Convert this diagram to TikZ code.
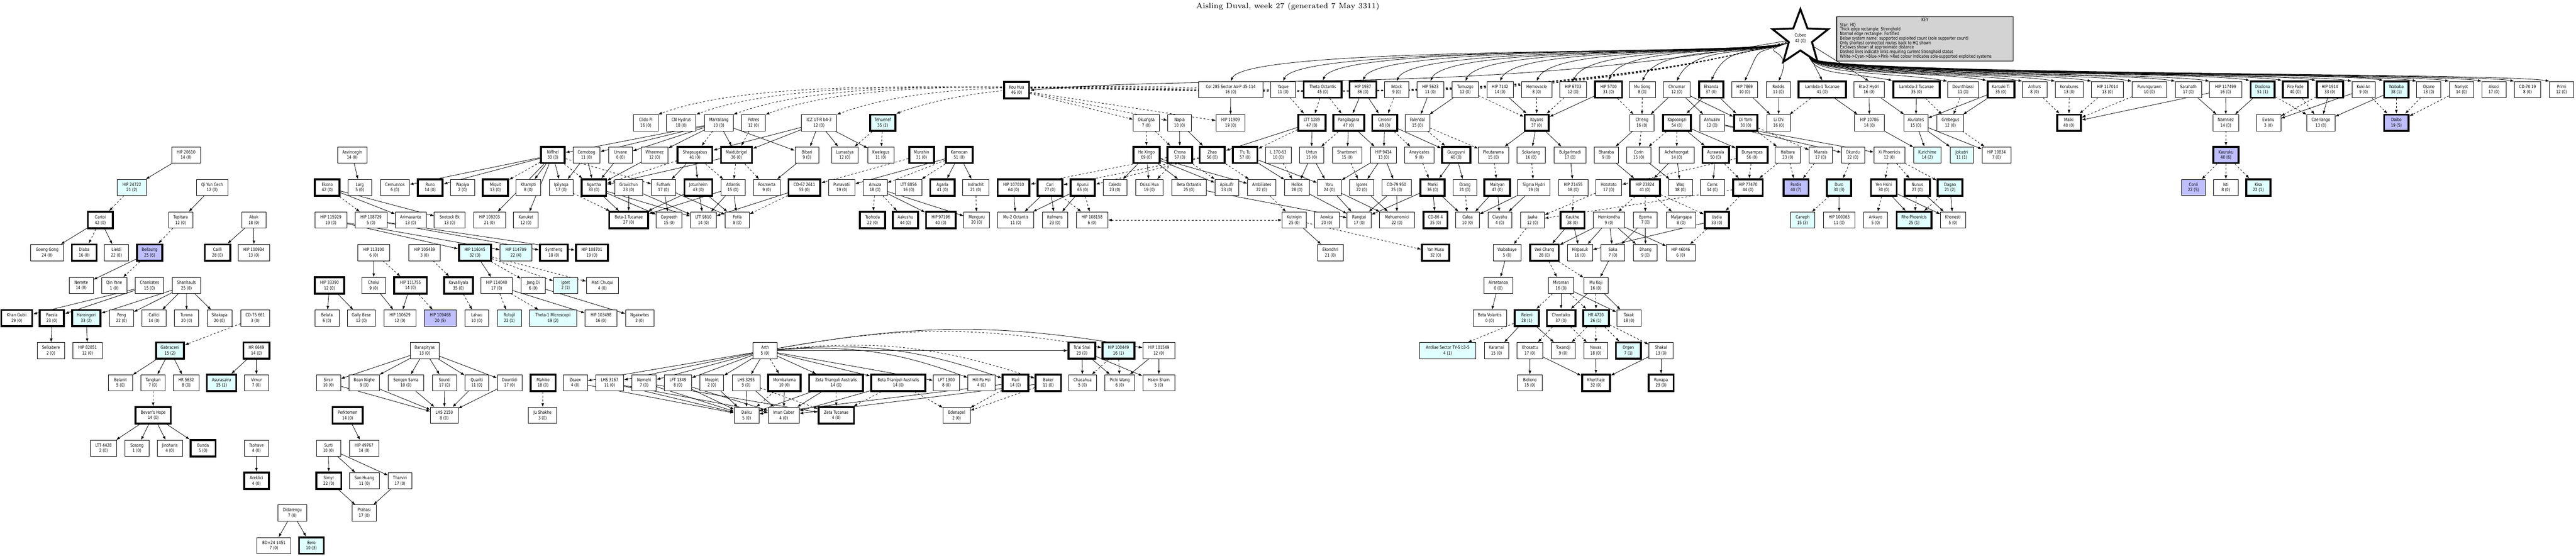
\documentclass[tikz,border=0pt]{standalone}
\usepackage{fontspec}
\usetikzlibrary{arrows.meta,shapes.geometric}
\newfontfamily\nf[FakeStretch=0.8]{DejaVu Sans}
\definecolor{cyf}{RGB}{224,255,255}
\definecolor{blf}{RGB}{191,191,255}
\definecolor{keyg}{RGB}{211,211,211}
\pgfdeclarelayer{bgfill}
\pgfdeclarelayer{bg}
\pgfsetlayers{bgfill,bg,main}
\tikzset{
 nb/.style={draw,line width=0.35pt,fill=white,minimum height=0.48cm,inner sep=0pt,align=center,font=\nf\fontsize{3.8}{4.6}\selectfont},
 tb/.style={nb,line width=1.6pt},
 cy/.style={fill=cyf}, bl/.style={fill=blf},
 e/.style={-{Latex[length=1.1mm,width=0.8mm]},line width=0.35pt},
 d/.style={e,dash pattern=on 1.6pt off 1.6pt},
}
\newcommand\bx[6]{\node[#5,minimum width={(#3-#2)*0.01cm}] (#1) at ({(#2+#3)/200},{-#4/100}) {#6};}
\begin{document}
\begin{tikzpicture}
\begin{pgfonlayer}{bgfill}
\path[fill=white] (0,0) rectangle (75.99,-16.39);
\end{pgfonlayer}
\useasboundingbox (0,0) rectangle (75.99,-16.39);
\node (title) at (37.99,-0.2) {\fontsize{6.5}{7}\selectfont Aisling Duval, week 27 (generated 7 May 3311)};
\node[star,star points=5,star point ratio=2.4,draw,line width=1.6pt,fill=white,minimum size=1.72cm,inner sep=0pt,align=center,font=\nf\fontsize{3.8}{4.6}\selectfont] (hq) at (53.11,-1.13) {Cubeo\\42 (0)};
\node[draw,line width=0.5pt,fill=keyg,minimum width=5.21cm,minimum height=1.31cm] (key) at (56.785,-1.145) {};
\node[anchor=north,inner sep=0pt,font=\nf\fontsize{3.8}{3.8}\selectfont] (keyt) at ([yshift=-0.05cm]key.north) {KEY};
\node[anchor=north west,inner sep=0pt,align=left,font=\nf\fontsize{3.8}{3.78}\selectfont] (keyb) at ([xshift=0.1cm,yshift=-0.19cm]key.north west) {Star: HQ\\Thick edge rectangle: Stronghold\\Normal edge rectangle: Fortified\\Below system name: supported exploited count (sole supporter count)\\Only shortest connected routes back to HQ shown\\Exclaves shown at approximate distance\\Dashed lines indicate links requiring current Stronghold status\\White->Cyan->Blue->Pink->Red colour indicates sole-supported exploited systems};
% row 264
\bx{kouhua}{2962}{3036}{266}{tb}{Kou Hua\\46 (0)}
\bx{col285}{3536}{3725}{264}{nb}{Col 285 Sector AV-P d5-114\\16 (0)}
\bx{yaque}{3749}{3821}{264}{nb}{Yaque\\11 (0)}
\bx{thetaoct}{3846}{3958}{264}{tb}{Theta Octantis\\45 (0)}
\bx{hip1937}{3981}{4060}{264}{tb}{HIP 1937\\36 (0)}
\bx{iktock}{4085}{4155}{264}{nb}{Iktock\\9 (0)}
\bx{hip5623}{4180}{4259}{264}{nb}{HIP 5623\\11 (0)}
\bx{tumuzgo}{4284}{4361}{264}{nb}{Tumuzgo\\12 (0)}
\bx{hip7142}{4386}{4464}{264}{nb}{HIP 7142\\14 (0)}
\bx{hernovacle}{4488}{4578}{264}{nb}{Hernovacle\\8 (0)}
\bx{hip6703}{4601}{4680}{264}{nb}{HIP 6703\\12 (0)}
\bx{hip5700}{4705}{4785}{264}{tb}{HIP 5700\\31 (0)}
\bx{mugong}{4806}{4883}{264}{nb}{Mu Gong\\8 (0)}
\bx{chnumar}{4907}{4986}{264}{nb}{Chnumar\\12 (0)}
\bx{ehlanda}{5012}{5084}{264}{tb}{Ehlanda\\37 (0)}
\bx{hip7869}{5108}{5185}{264}{nb}{HIP 7869\\10 (0)}
\bx{reddis}{5211}{5282}{264}{nb}{Reddis\\11 (0)}
\bx{lam1}{5306}{5445}{264}{tb}{Lambda-1 Tucanae\\41 (0)}
\bx{eta2}{5469}{5558}{264}{nb}{Eta-2 Hydri\\16 (0)}
\bx{lam2}{5585}{5722}{264}{tb}{Lambda-2 Tucanae\\35 (0)}
\bx{dounth}{5745}{5837}{264}{nb}{Dounthiassi\\11 (0)}
\bx{karsuki}{5863}{5942}{264}{tb}{Karsuki Ti\\35 (0)}
\bx{anhurs}{5966}{6038}{264}{nb}{Anhurs\\8 (0)}
\bx{korub}{6063}{6145}{264}{nb}{Korubures\\13 (0)}
\bx{hip117014}{6170}{6264}{264}{nb}{HIP 117014\\13 (0)}
\bx{purung}{6289}{6392}{264}{nb}{Purungurawn\\10 (0)}
\bx{sarahath}{6417}{6494}{264}{nb}{Sarahath\\17 (0)}
\bx{hip117499}{6518}{6613}{264}{nb}{HIP 117499\\16 (0)}
\bx{doolona}{6639}{6710}{264}{tb,cy}{Doolona\\51 (1)}
\bx{firefade}{6734}{6808}{264}{tb}{Fire Fade\\40 (0)}
\bx{hip1914}{6834}{6912}{264}{tb}{HIP 1914\\33 (0)}
\bx{kukian}{6938}{7007}{264}{nb}{Kuki An\\9 (0)}
\bx{wababa}{7033}{7105}{264}{tb,cy}{Wababa\\38 (1)}
\bx{osane}{7129}{7200}{264}{nb}{Osane\\13 (0)}
\bx{nariyot}{7225}{7297}{264}{nb}{Nariyot\\14 (0)}
\bx{aisoci}{7321}{7393}{264}{nb}{Aisoci\\17 (0)}
\bx{cd7019}{7417}{7495}{264}{nb}{CD-70 19\\8 (0)}
\bx{primi}{7521}{7592}{264}{nb}{Primi\\12 (0)}
% row 362
\bx{clido}{1869}{1941}{362}{nb}{Clido Pi\\16 (0)}
\bx{cnhydrus}{1966}{2053}{362}{nb}{CN Hydrus\\18 (0)}
\bx{marrallang}{2078}{2163}{362}{nb}{Marrallang\\10 (0)}
\bx{potres}{2188}{2258}{362}{nb}{Potres\\12 (0)}
\bx{iczut}{2364}{2468}{362}{nb}{ICZ UT-R b4-3\\12 (0)}
\bx{tehuenef}{2567}{2641}{362}{tb,cy}{Tehuenef\\35 (2)}
\bx{okuagsa}{3343}{3420}{362}{nb}{Okua'gsa\\7 (0)}
\bx{napia}{3444}{3515}{362}{nb}{Napia\\10 (0)}
\bx{hip11909}{3587}{3673}{362}{nb}{HIP 11909\\19 (0)}
\bx{ltt1289}{3830}{3910}{362}{tb}{LTT 1289\\47 (0)}
\bx{pangil}{3933}{4024}{362}{tb}{Pangilagara\\47 (0)}
\bx{ceronir}{4048}{4122}{362}{tb}{Ceronir\\48 (0)}
\bx{falendal}{4145}{4218}{362}{nb}{Falendal\\15 (0)}
\bx{koyans}{4498}{4568}{362}{tb}{Koyans\\37 (0)}
\bx{cheng}{4808}{4879}{362}{nb}{Ch'eng\\16 (0)}
\bx{kapoongzi}{4906}{4988}{362}{tb}{Kapoongzi\\54 (0)}
\bx{anhualm}{5014}{5087}{362}{nb}{Anhualm\\12 (0)}
\bx{diyomi}{5116}{5184}{362}{tb}{Di Yomi\\30 (0)}
\bx{lichi}{5212}{5282}{362}{nb}{Li Chi\\16 (0)}
\bx{hip10786}{5471}{5558}{362}{nb}{HIP 10786\\14 (0)}
\bx{aluriates}{5616}{5687}{362}{nb}{Aluriates\\15 (0)}
\bx{grebegus}{5714}{5793}{362}{nb}{Grebegus\\12 (0)}
\bx{maiki}{6068}{6138}{362}{tb}{Maiki\\40 (0)}
\bx{namniez}{6528}{6604}{362}{nb}{Namniez\\14 (0)}
\bx{ewanu}{6655}{6728}{362}{nb}{Ewanu\\3 (0)}
\bx{caeriango}{6805}{6888}{362}{nb}{Caeriango\\13 (0)}
\bx{daibo}{7033}{7105}{362}{tb,bl}{Daibo\\19 (5)}
% row 457
\bx{hip20610}{506}{592}{457}{nb}{HIP 20610\\14 (0)}
\bx{asvincegin}{996}{1082}{457}{nb}{Asvincegin\\14 (0)}
\bx{niflhel}{1596}{1666}{457}{tb}{Niflhel\\30 (0)}
\bx{cernobog}{1690}{1770}{457}{nb}{Cernobog\\11 (0)}
\bx{urvane}{1795}{1866}{457}{nb}{Urvane\\6 (0)}
\bx{wheemez}{1891}{1971}{457}{nb}{Wheemez\\12 (0)}
\bx{shapsug}{1999}{2101}{457}{tb}{Shapsugabus\\41 (0)}
\bx{maidub}{2127}{2218}{457}{tb}{Maidubrigel\\36 (0)}
\bx{bibari}{2345}{2416}{457}{nb}{Bibari\\9 (0)}
\bx{lumastya}{2453}{2531}{457}{nb}{Lumastya\\12 (0)}
\bx{kwelegus}{2560}{2637}{457}{nb}{Kwelegus\\11 (0)}
\bx{munshin}{2682}{2755}{457}{tb}{Munshin\\31 (0)}
\bx{kamocan}{2790}{2869}{457}{tb}{Kamocan\\51 (0)}
\bx{hexingo}{3343}{3421}{457}{tb}{He Xingo\\69 (0)}
\bx{chona}{3444}{3517}{457}{tb}{Chona\\57 (0)}
\bx{zhao}{3539}{3613}{457}{tb}{Zhao\\56 (0)}
\bx{tutu}{3637}{3709}{457}{tb}{T'u Tu\\57 (0)}
\bx{l17063}{3733}{3809}{457}{nb}{L 170-63\\10 (0)}
\bx{untun}{3833}{3905}{457}{nb}{Untun\\15 (0)}
\bx{shanteneri}{3931}{4017}{457}{nb}{Shanteneri\\15 (0)}
\bx{hip9414}{4043}{4120}{457}{nb}{HIP 9414\\13 (0)}
\bx{anayicates}{4144}{4230}{457}{nb}{Anayicates\\9 (0)}
\bx{guuguyni}{4254}{4337}{457}{tb}{Guuguyni\\40 (0)}
\bx{pleutarama}{4361}{4450}{457}{nb}{Pleutarama\\15 (0)}
\bx{sokariang}{4475}{4558}{457}{nb}{Sokariang\\16 (0)}
\bx{bulgar}{4584}{4679}{457}{nb}{Bulgarlmadi\\17 (0)}
\bx{bharaba}{4703}{4774}{457}{nb}{Bharaba\\9 (0)}
\bx{corin}{4798}{4870}{457}{nb}{Corin\\15 (0)}
\bx{acheh}{4895}{4997}{457}{nb}{Achehoongat\\14 (0)}
\bx{aurawala}{5022}{5100}{457}{tb}{Aurawala\\50 (0)}
\bx{duryampas}{5123}{5214}{457}{tb}{Duryampas\\56 (0)}
\bx{halbara}{5237}{5311}{457}{nb}{Halbara\\23 (0)}
\bx{miansis}{5337}{5405}{457}{nb}{Miansis\\17 (0)}
\bx{okundu}{5432}{5500}{457}{nb}{Okundu\\22 (0)}
\bx{xiphoen}{5528}{5619}{457}{nb}{Xi Phoenicis\\12 (0)}
\bx{kurichime}{5645}{5726}{457}{nb,cy}{Kurichime\\14 (2)}
\bx{jokudri}{5753}{5821}{457}{nb,cy}{Jokudri\\11 (1)}
\bx{hip10834}{5847}{5932}{457}{nb}{HIP 10834\\7 (0)}
\bx{kauruku}{6529}{6604}{457}{tb,bl}{Kauruku\\40 (6)}
% row 553
\bx{hip24722}{346}{432}{553}{nb,cy}{HIP 24722\\21 (2)}
\bx{qiyun}{579}{673}{553}{nb}{Qi Yun Cech\\12 (0)}
\bx{ekono}{929}{1002}{553}{tb}{Ekono\\42 (0)}
\bx{larg}{1026}{1097}{553}{nb}{Larg\\5 (0)}
\bx{cernunnos}{1122}{1208}{553}{nb}{Cernunnos\\6 (0)}
\bx{runo}{1232}{1306}{553}{tb}{Runo\\14 (0)}
\bx{wapiya}{1329}{1400}{553}{nb}{Wapiya\\2 (0)}
\bx{miquit}{1424}{1499}{553}{tb}{Miquit\\13 (0)}
\bx{khampti}{1522}{1595}{553}{nb}{Khampti\\8 (0)}
\bx{ipilyaqa}{1620}{1691}{553}{nb}{Ipilyaqa\\17 (0)}
\bx{agartha}{1716}{1788}{553}{tb}{Agartha\\33 (0)}
\bx{grovichun}{1813}{1896}{553}{nb}{Grovichun\\23 (0)}
\bx{futhark}{1922}{1993}{553}{nb}{Futhark\\17 (0)}
\bx{jotunheim}{2019}{2101}{553}{tb}{Jotunheim\\43 (0)}
\bx{atlantis}{2127}{2198}{553}{nb}{Atlantis\\15 (0)}
\bx{rosmerta}{2223}{2301}{553}{nb}{Rosmerta\\9 (0)}
\bx{cdsixseven}{2326}{2420}{553}{tb}{CD-67 2611\\55 (0)}
\bx{punavatii}{2445}{2522}{553}{nb}{Punavatii\\19 (0)}
\bx{amuza}{2546}{2617}{553}{nb}{Amuza\\18 (0)}
\bx{ltt8856}{2642}{2719}{553}{nb}{LTT 8856\\16 (0)}
\bx{agarla}{2744}{2816}{553}{tb}{Agarla\\41 (0)}
\bx{indrachit}{2840}{2917}{553}{nb}{Indrachit\\21 (0)}
\bx{hip107010}{2943}{3037}{553}{tb}{HIP 107010\\64 (0)}
\bx{cari}{3061}{3134}{553}{tb}{Cari\\77 (0)}
\bx{apurui}{3158}{3230}{553}{tb}{Apurui\\65 (0)}
\bx{caledo}{3254}{3324}{553}{nb}{Caledo\\23 (0)}
\bx{osissi}{3350}{3431}{553}{nb}{Osissi Hua\\19 (0)}
\bx{betaoct}{3457}{3558}{553}{nb}{Beta Octantis\\25 (0)}
\bx{apisulfr}{3584}{3654}{553}{nb}{Apisulfr\\23 (0)}
\bx{ambil}{3680}{3764}{553}{nb}{Ambiliates\\22 (0)}
\bx{hollos}{3790}{3862}{553}{nb}{Hollos\\28 (0)}
\bx{yoru}{3886}{3957}{553}{nb}{Yoru\\24 (0)}
\bx{igores}{3981}{4053}{553}{nb}{Igores\\22 (0)}
\bx{cdsevennine}{4077}{4163}{553}{nb}{CD-79 950\\25 (0)}
\bx{marki}{4190}{4262}{553}{tb}{Marki\\36 (0)}
\bx{orang}{4286}{4357}{553}{nb}{Orang\\21 (0)}
\bx{maityan}{4379}{4455}{553}{tb}{Maityan\\47 (0)}
\bx{sigmahyd}{4477}{4572}{553}{nb}{Sigma Hydri\\19 (0)}
\bx{hip21455}{4598}{4684}{553}{nb}{HIP 21455\\18 (0)}
\bx{hotototo}{4707}{4784}{553}{nb}{Hotototo\\17 (0)}
\bx{hip23824}{4808}{4897}{553}{tb}{HIP 23824\\41 (0)}
\bx{waq}{4921}{4993}{553}{nb}{Waq\\18 (0)}
\bx{carns}{5016}{5087}{553}{nb}{Carns\\14 (0)}
\bx{hip77470}{5113}{5200}{553}{tb}{HIP 77470\\44 (0)}
\bx{pardis}{5261}{5335}{553}{tb,bl}{Pardis\\40 (7)}
\bx{duro}{5389}{5461}{553}{tb,cy}{Duro\\30 (3)}
\bx{yenhsini}{5519}{5595}{553}{tb}{Yen Hsini\\30 (0)}
\bx{nunus}{5619}{5693}{553}{tb}{Nunus\\27 (0)}
\bx{dagao}{5716}{5789}{553}{tb,cy}{Dagao\\21 (2)}
\bx{conii}{6435}{6506}{553}{nb,bl}{Conii\\22 (5)}
\bx{isti}{6530}{6602}{553}{nb}{Isti\\8 (0)}
\bx{kisa}{6626}{6698}{553}{tb,cy}{Kisa\\22 (1)}
% row 649
\bx{cartoi}{259}{333}{649}{tb}{Cartoi\\42 (0)}
\bx{tepitara}{497}{569}{649}{nb}{Tepitara\\12 (0)}
\bx{abuk}{713}{785}{649}{nb}{Abuk\\18 (0)}
\bx{hip115929}{929}{1023}{649}{nb}{HIP 115929\\19 (0)}
\bx{hip108729}{1047}{1142}{649}{nb}{HIP 108729\\5 (0)}
\bx{arimavante}{1166}{1257}{649}{nb}{Arimavante\\13 (0)}
\bx{snotock}{1281}{1372}{649}{nb}{Snotock Ek\\13 (0)}
\bx{hip109203}{1397}{1491}{649}{nb}{HIP 109203\\21 (0)}
\bx{kanuket}{1515}{1588}{649}{nb}{Kanuket\\12 (0)}
\bx{betaonetuc}{1797}{1912}{649}{tb}{Beta-1 Tucanae\\27 (0)}
\bx{cegreeth}{1936}{2012}{649}{nb}{Cegreeth\\15 (0)}
\bx{ltt9810}{2037}{2113}{649}{nb}{LTT 9810\\14 (0)}
\bx{fotla}{2139}{2211}{649}{nb}{Fotla\\8 (0)}
\bx{tsohoda}{2537}{2611}{649}{tb}{Tsohoda\\22 (0)}
\bx{aakushu}{2634}{2708}{649}{tb}{Aakushu\\44 (0)}
\bx{hip97196}{2732}{2819}{649}{tb}{HIP 97196\\40 (0)}
\bx{menguru}{2843}{2919}{649}{nb}{Menguru\\20 (0)}
\bx{mutwooct}{2943}{3050}{649}{nb}{Mu-2 Octantis\\11 (0)}
\bx{itelmens}{3075}{3149}{649}{nb}{Itelmens\\23 (0)}
\bx{hip108158}{3175}{3268}{649}{nb}{HIP 108158\\6 (0)}
\bx{kutnigin}{3782}{3854}{649}{nb}{Kutnigin\\25 (0)}
\bx{aowica}{3878}{3950}{649}{nb}{Aowica\\20 (0)}
\bx{rangtei}{3974}{4045}{649}{nb}{Rangtei\\17 (0)}
\bx{mehuen}{4069}{4173}{649}{nb}{Mehuenomici\\22 (0)}
\bx{cdeightsix}{4199}{4270}{649}{tb}{CD-86 4\\35 (0)}
\bx{calea}{4294}{4364}{649}{nb}{Calea\\10 (0)}
\bx{ciayahu}{4389}{4460}{649}{nb}{Ciayahu\\4 (0)}
\bx{jaaka}{4486}{4556}{649}{nb}{Jaaka\\12 (0)}
\bx{kaukhe}{4603}{4674}{649}{tb}{Kaukhe\\38 (0)}
\bx{hernk}{4700}{4793}{649}{nb}{Hernkondha\\9 (0)}
\bx{epoma}{4819}{4889}{649}{nb}{Epoma\\7 (0)}
\bx{maljan}{4916}{5003}{649}{nb}{Maljangapa\\8 (0)}
\bx{usdia}{5029}{5100}{649}{tb}{Usdia\\33 (0)}
\bx{caneph}{5282}{5353}{649}{nb,cy}{Caneph\\15 (3)}
\bx{hip100063}{5379}{5472}{649}{nb}{HIP 100063\\11 (0)}
\bx{ankayo}{5498}{5568}{649}{nb}{Ankayo\\5 (0)}
\bx{rhophoen}{5595}{5698}{649}{tb,cy}{Rho Phoenicis\\25 (1)}
\bx{khonesti}{5724}{5798}{649}{nb}{Khonesti\\5 (0)}
% row 745
\bx{goeng}{90}{188}{745}{nb}{Goeng Gong\\24 (0)}
\bx{diaba}{212}{285}{745}{tb}{Diaba\\16 (0)}
\bx{lieldi}{308}{379}{745}{nb}{Lieldi\\22 (0)}
\bx{bellaung}{404}{479}{745}{tb,bl}{Bellaung\\25 (6)}
\bx{cailli}{604}{679}{745}{tb}{Cailli\\28 (0)}
\bx{hip100934}{702}{796}{745}{nb}{HIP 100934\\13 (0)}
\bx{hip113100}{1055}{1150}{745}{nb}{HIP 113100\\6 (0)}
\bx{hip105439}{1206}{1299}{745}{nb}{HIP 105439\\3 (0)}
\bx{hip116045}{1354}{1448}{745}{tb,cy}{HIP 116045\\32 (3)}
\bx{hip114709}{1475}{1569}{745}{nb,cy}{HIP 114709\\22 (4)}
\bx{syntheng}{1593}{1675}{745}{tb}{Syntheng\\18 (0)}
\bx{hip108701}{1699}{1793}{745}{tb}{HIP 108701\\19 (0)}
\bx{ekondhri}{3887}{3962}{745}{nb}{Ekondhri\\21 (0)}
\bx{yanmusu}{4195}{4275}{745}{tb}{Yan Musu\\32 (0)}
\bx{wababaye}{4405}{4487}{745}{nb}{Wababaye\\5 (0)}
\bx{weichang}{4514}{4598}{745}{tb}{Wei Chang\\28 (0)}
\bx{hirpasuk}{4624}{4698}{745}{nb}{Hirpasuk\\16 (0)}
\bx{saka}{4723}{4793}{745}{nb}{Saka\\7 (0)}
\bx{dhang}{4819}{4889}{745}{nb}{Dhang\\9 (0)}
\bx{hip46046}{4916}{5000}{745}{nb}{HIP 46046\\6 (0)}
% row 842
\bx{nerrete}{204}{275}{842}{nb}{Nerrete\\14 (0)}
\bx{qinyane}{300}{374}{842}{nb}{Qin Yane\\1 (0)}
\bx{chankates}{399}{483}{842}{nb}{Chankates\\15 (0)}
\bx{shanhauls}{508}{592}{842}{nb}{Shanhauls\\25 (0)}
\bx{hip33390}{929}{1015}{842}{tb}{HIP 33390\\12 (0)}
\bx{cholul}{1067}{1138}{842}{nb}{Cholul\\9 (0)}
\bx{hip111755}{1163}{1259}{842}{tb}{HIP 111755\\14 (0)}
\bx{kavall}{1310}{1395}{842}{tb}{Kavalliyala\\35 (0)}
\bx{hip114040}{1418}{1512}{842}{nb}{HIP 114040\\17 (0)}
\bx{jangdi}{1537}{1609}{842}{nb}{Jang Di\\6 (0)}
\bx{iptet}{1633}{1704}{842}{nb,cy}{Iptet\\2 (1)}
\bx{matichuqui}{1730}{1824}{842}{nb}{Mati Chuqui\\4 (0)}
\bx{airsetanoa}{4377}{4463}{842}{nb}{Airsetanoa\\0 (0)}
\bx{miroman}{4568}{4642}{842}{nb}{Miroman\\16 (0)}
\bx{mukoji}{4672}{4744}{842}{nb}{Mu Koji\\16 (0)}
% row 938
\bx{khangubii}{4}{95}{938}{tb}{Khan Gubii\\29 (0)}
\bx{paesia}{117}{189}{938}{tb}{Paesia\\23 (0)}
\bx{haroingori}{213}{296}{938}{tb,cy}{Haroingori\\33 (2)}
\bx{peng}{323}{394}{938}{nb}{Peng\\22 (0)}
\bx{callici}{419}{490}{938}{nb}{Callici\\14 (0)}
\bx{turona}{515}{586}{938}{nb}{Turona\\20 (0)}
\bx{sitakapa}{611}{684}{938}{nb}{Sitakapa\\20 (0)}
\bx{cdsevenfive}{710}{796}{938}{nb}{CD-75 661\\3 (0)}
\bx{belata}{929}{1000}{938}{nb}{Belata\\6 (0)}
\bx{gallybese}{1025}{1107}{938}{nb}{Gally Bese\\12 (0)}
\bx{hip110629}{1133}{1227}{938}{nb}{HIP 110629\\12 (0)}
\bx{hip109468}{1252}{1346}{938}{nb,bl}{HIP 109468\\20 (5)}
\bx{lahau}{1371}{1442}{938}{nb}{Lahau\\10 (0)}
\bx{rutujil}{1467}{1538}{938}{nb,cy}{Rutujil\\22 (1)}
\bx{thetaonemic}{1562}{1701}{938}{nb,cy}{Theta-1 Microscopii\\19 (2)}
\bx{hip103498}{1726}{1820}{938}{nb}{HIP 103498\\16 (0)}
\bx{ngakwites}{1845}{1929}{938}{nb}{Ngakwites\\2 (0)}
\bx{betavol}{4345}{4444}{938}{nb}{Beta Volantis\\0 (0)}
\bx{reieni}{4468}{4540}{938}{tb,cy}{Reieni\\28 (1)}
\bx{chontaiko}{4563}{4647}{938}{tb}{Chontaiko\\37 (0)}
\bx{hr4720}{4670}{4746}{938}{tb,cy}{HR 4720\\26 (1)}
\bx{takak}{4769}{4841}{938}{nb}{Takak\\18 (0)}
% row 1034
\bx{selkabere}{110}{190}{1034}{nb}{Selkabere\\2 (0)}
\bx{hip82851}{215}{302}{1034}{nb}{HIP 82851\\12 (0)}
\bx{gabraceni}{460}{543}{1034}{tb,cy}{Gabraceni\\15 (2)}
\bx{hr6649}{718}{795}{1034}{tb}{HR 6649\\14 (0)}
\bx{banapityas}{1210}{1296}{1034}{nb}{Banapityas\\13 (0)}
\bx{arth}{2221}{2293}{1034}{nb}{Arth\\5 (0)}
\bx{tsaishai}{3152}{3231}{1034}{tb}{Ts'ai Shai\\23 (0)}
\bx{hip100449}{3252}{3347}{1034}{tb,cy}{HIP 100449\\16 (1)}
\bx{hip101549}{3371}{3466}{1034}{nb}{HIP 101549\\12 (0)}
\bx{antliae}{4188}{4353}{1034}{nb,cy}{Antliae Sector TY-S b3-5\\4 (1)}
\bx{karamai}{4379}{4450}{1034}{nb}{Karamai\\15 (0)}
\bx{xhosattu}{4475}{4551}{1034}{nb}{Xhosattu\\17 (0)}
\bx{toxandji}{4576}{4647}{1034}{nb}{Toxandji\\9 (0)}
\bx{novas}{4672}{4743}{1034}{nb}{Novas\\18 (0)}
\bx{orgen}{4767}{4840}{1034}{tb,cy}{Orgen\\7 (1)}
\bx{shakal}{4864}{4936}{1034}{nb}{Shakal\\13 (0)}
% row 1129
\bx{belanit}{320}{391}{1129}{nb}{Belanit\\5 (0)}
\bx{tangkan}{416}{487}{1129}{nb}{Tangkan\\7 (0)}
\bx{hr5632}{512}{587}{1129}{nb}{HR 5632\\8 (0)}
\bx{asurasairu}{610}{697}{1129}{tb,cy}{Asurasairu\\15 (1)}
\bx{vimur}{721}{792}{1129}{nb}{Vimur\\7 (0)}
\bx{sirsir}{933}{1005}{1129}{nb}{Sirsir\\10 (0)}
\bx{beannighe}{1030}{1119}{1129}{nb}{Bean Nighe\\9 (0)}
\bx{sengen}{1145}{1250}{1129}{nb}{Sengen Sama\\10 (0)}
\bx{sounti}{1276}{1347}{1129}{nb}{Sounti\\17 (0)}
\bx{quariti}{1371}{1442}{1129}{nb}{Quariti\\11 (0)}
\bx{dountidi}{1467}{1540}{1129}{nb}{Dountidi\\17 (0)}
\bx{mahiko}{1565}{1639}{1129}{tb}{Mahiko\\18 (0)}
\bx{zeaex}{1661}{1733}{1129}{nb}{Zeaex\\4 (0)}
\bx{lhs3167}{1757}{1840}{1129}{nb}{LHS 3167\\11 (0)}
\bx{nemehi}{1864}{1936}{1129}{nb}{Nemehi\\7 (0)}
\bx{lft1349}{1960}{2040}{1129}{nb}{LFT 1349\\8 (0)}
\bx{moepirt}{2065}{2135}{1129}{nb}{Moepirt\\2 (0)}
\bx{lhs3295}{2160}{2242}{1129}{nb}{LHS 3295\\5 (0)}
\bx{mombaluma}{2266}{2362}{1129}{tb}{Mombaluma\\10 (0)}
\bx{zetatra}{2387}{2546}{1129}{tb}{Zeta Trianguli Australis\\14 (0)}
\bx{betatra}{2570}{2730}{1129}{tb}{Beta Trianguli Australis\\14 (0)}
\bx{lft1300}{2753}{2831}{1129}{nb}{LFT 1300\\8 (0)}
\bx{hillpahsi}{2855}{2936}{1129}{nb}{Hill Pa Hsi\\4 (0)}
\bx{mari}{2958}{3033}{1129}{tb}{Mari\\14 (0)}
\bx{baker}{3055}{3130}{1129}{tb}{Baker\\11 (0)}
\bx{chacahua}{3152}{3235}{1129}{nb}{Chacahua\\5 (0)}
\bx{pichiwang}{3259}{3347}{1129}{nb}{Pichi Wang\\6 (0)}
\bx{hsiensham}{3371}{3466}{1129}{nb}{Hsien Sham\\5 (0)}
\bx{bidiono}{4477}{4549}{1129}{nb}{Bidiono\\15 (0)}
\bx{kherthaje}{4667}{4749}{1129}{tb}{Kherthaje\\32 (0)}
\bx{runapa}{4863}{4937}{1129}{tb}{Runapa\\23 (0)}
% row 1225
\bx{bevans}{400}{504}{1225}{tb}{Bevan's Hope\\14 (0)}
\bx{perktomen}{981}{1070}{1225}{tb}{Perktomen\\14 (0)}
\bx{lhs2150}{1270}{1351}{1225}{nb}{LHS 2150\\8 (0)}
\bx{jushakhe}{1559}{1642}{1225}{nb}{Ju Shakhe\\3 (0)}
\bx{daiku}{2166}{2239}{1225}{nb}{Daiku\\5 (0)}
\bx{imancaber}{2266}{2358}{1225}{nb}{Iman Caber\\4 (0)}
\bx{zetatuc}{2415}{2519}{1225}{tb}{Zeta Tucanae\\4 (0)}
\bx{edenapel}{2782}{2862}{1225}{nb}{Edenapel\\2 (0)}
% lower rows
\bx{ltt4428}{267}{344}{1322}{nb}{LTT 4428\\2 (0)}
\bx{sosong}{368}{440}{1322}{nb}{Sosong\\1 (0)}
\bx{jinoharis}{464}{538}{1322}{nb}{Jinoharis\\4 (0)}
\bx{bunda}{562}{636}{1322}{tb}{Bunda\\5 (0)}
\bx{tsohave}{721}{792}{1322}{nb}{Tsohave\\4 (0)}
\bx{surti}{933}{1005}{1322}{nb}{Surti\\10 (0)}
\bx{hip49767}{1031}{1117}{1322}{nb}{HIP 49767\\14 (0)}
\bx{areklici}{720}{793}{1418}{tb}{Areklici\\4 (0)}
\bx{simyr}{933}{1007}{1418}{tb}{Simyr\\22 (0)}
\bx{sanhuang}{1031}{1119}{1418}{nb}{San Huang\\11 (0)}
\bx{tharviri}{1145}{1215}{1418}{nb}{Tharviri\\17 (0)}
\bx{didarengu}{820}{905}{1513}{nb}{Didarengu\\7 (0)}
\bx{prahasi}{1039}{1110}{1513}{nb}{Prahasi\\17 (0)}
\bx{bdtwofour}{758}{858}{1609}{nb}{BD+24 1451\\7 (0)}
\bx{bero}{882}{955}{1609}{tb,cy}{Bero\\10 (3)}
\begin{pgfonlayer}{bg}
% HQ edges
\foreach \n in {col285,yaque,thetaoct,hip1937,iktock,hip5623,tumuzgo,hip7142,hernovacle,hip6703,hip5700,mugong,chnumar,ehlanda,hip7869,reddis}
  \draw[e] (hq) .. controls +(200:1.5) and +(65:1.2) .. (\n.north);
\foreach \n in {lam1,eta2}
  \draw[e] (hq) -- (\n.north);
\foreach \n in {lam2,dounth,karsuki,anhurs,korub,hip117014,purung,sarahath,hip117499,doolona,firefade,hip1914,kukian,wababa,osane,nariyot,aisoci,cd7019,primi}
  \draw[e] (hq) .. controls +(-65:1.2) and +(170:1.5) .. (\n.north west);
\draw[e] (hq) .. controls +(190:10) and +(5:6) .. (kouhua.east);
\foreach \n in {clido,cnhydrus,marrallang,potres,iczut,tehuenef}
  \draw[d] (hq) .. controls +(195:12) and +(20:6) .. (\n.north east);
% solid edges
\foreach \a/\b in {hip20610/hip24722,qiyun/tepitara,cartoi/goeng,cartoi/lieldi,abuk/cailli,abuk/hip100934,bellaung/nerrete,chankates/khangubii,chankates/paesia,shanhauls/haroingori,shanhauls/peng,shanhauls/callici,shanhauls/turona,shanhauls/sitakapa,paesia/selkabere,haroingori/hip82851,gabraceni/belanit,gabraceni/tangkan,gabraceni/hr5632,hr6649/asurasairu,hr6649/vimur,bevans/ltt4428,bevans/sosong,bevans/jinoharis,bevans/bunda,tsohave/areklici,perktomen/hip49767,surti/simyr,surti/sanhuang,surti/tharviri,simyr/prahasi,tharviri/prahasi,didarengu/bdtwofour,didarengu/bero,banapityas/sirsir,banapityas/beannighe,banapityas/sengen,banapityas/sounti,banapityas/quariti,banapityas/dountidi,sirsir/lhs2150,beannighe/lhs2150,sengen/lhs2150,sounti/lhs2150,quariti/lhs2150,dountidi/lhs2150,asvincegin/larg,ekono/arimavante,ekono/snotock,niflhel/cernunnos,niflhel/runo,hip115929/hip116045,hip115929/hip114709,hip108729/syntheng,hip108729/hip108701,hip113100/cholul,hip33390/belata,hip33390/gallybese,cholul/hip110629,hip111755/hip110629,hip116045/hip114040,hip114040/hip103498,jangdi/ngakwites,
marrallang/niflhel,marrallang/cernobog,marrallang/urvane,marrallang/wheemez,marrallang/maidub,marrallang/bibari,iczut/shapsug,iczut/maidub,iczut/bibari,iczut/lumastya,iczut/kwelegus,niflhel/khampti,niflhel/ipilyaqa,niflhel/hip109203,niflhel/kanuket,cernobog/ipilyaqa,cernobog/agartha,urvane/agartha,wheemez/agartha,shapsug/futhark,shapsug/jotunheim,maidub/agartha,bibari/rosmerta,agartha/betaonetuc,agartha/cegreeth,agartha/ltt9810,grovichun/betaonetuc,grovichun/ltt9810,futhark/cegreeth,futhark/fotla,jotunheim/betaonetuc,jotunheim/ltt9810,jotunheim/fotla,atlantis/fotla,atlantis/betaonetuc,atlantis/ltt9810,cdsixseven/ltt9810,kamocan/punavatii,kamocan/agarla,kamocan/indrachit,amuza/hip97196,amuza/menguru,
col285/hip11909,hip5623/falendal,tumuzgo/falendal,hip7142/koyans,hip1937/pangil,hip1937/ceronir,hip5700/koyans,chnumar/cheng,chnumar/anhualm,chnumar/diyomi,ehlanda/kapoongzi,ehlanda/diyomi,hip7869/lichi,reddis/lichi,lam1/hip10786,eta2/hip10786,eta2/aluriates,lam2/aluriates,karsuki/aluriates,karsuki/grebegus,
hip117499/maiki,hip117499/namniez,sarahath/namniez,doolona/namniez,hip1914/caeriango,kukian/ewanu,wababa/caeriango,
napia/chona,napia/zhao,ltt1289/zhao,ltt1289/untun,pangil/shanteneri,pangil/hip9414,ceronir/hip9414,ceronir/guuguyni,koyans/pleutarama,koyans/sokariang,koyans/bulgar,cheng/bharaba,kapoongzi/aurawala,kapoongzi/duryampas,anhualm/okundu,anhualm/xiphoen,hip10786/kurichime,aluriates/kurichime,aluriates/jokudri,aluriates/hip10834,
hexingo/caledo,hexingo/osissi,hexingo/betaoct,hexingo/apisulfr,hexingo/ambil,tutu/hollos,tutu/yoru,untun/hollos,untun/yoru,hip9414/igores,hip9414/cdsevennine,hip9414/yoru,guuguyni/marki,guuguyni/orang,bulgar/hip21455,bharaba/hip23824,corin/waq,acheh/hip23824,acheh/waq,aurawala/carns,
hip107010/mutwooct,cari/mutwooct,cari/itelmens,apurui/mutwooct,apurui/itelmens,betaoct/rangtei,hollos/rangtei,yoru/rangtei,yoru/mehuen,igores/mehuen,cdsevennine/mehuen,cdsevennine/rangtei,marki/cdeightsix,marki/calea,marki/rangtei,maityan/calea,maityan/ciayahu,sigmahyd/ciayahu,sigmahyd/calea,duro/hip100063,yenhsini/rhophoen,yenhsini/khonesti,nunus/khonesti,dagao/khonesti,
kutnigin/ekondhri,kaukhe/weichang,kaukhe/hirpasuk,hernk/weichang,hernk/hirpasuk,hernk/saka,hernk/dhang,hernk/hip46046,epoma/dhang,epoma/saka,usdia/hirpasuk,wababaye/airsetanoa,saka/mukoji,airsetanoa/betavol,miroman/chontaiko,miroman/takak,mukoji/chontaiko,mukoji/takak,reieni/karamai,reieni/toxandji,xhosattu/bidiono,xhosattu/kherthaje,novas/kherthaje,shakal/kherthaje,shakal/runapa,
arth/zeaex,arth/lhs3167,arth/nemehi,arth/lft1349,arth/moepirt,arth/lhs3295,arth/zetatra,arth/betatra,arth/lft1300,zeaex/daiku,lhs3167/daiku,lhs3167/imancaber,nemehi/daiku,nemehi/zetatuc,lft1349/daiku,lft1349/imancaber,moepirt/daiku,lhs3295/daiku,lhs3295/imancaber,mombaluma/imancaber,zetatra/daiku,zetatra/imancaber,betatra/imancaber,mari/daiku,baker/imancaber,arth/tsaishai,tsaishai/chacahua,tsaishai/pichiwang,tsaishai/hsiensham,hip101549/pichiwang,hip101549/hsiensham}
  \draw[e] (\a) -- (\b);
% dashed edges
\foreach \a/\b in {hip24722/cartoi,cartoi/diaba,tepitara/bellaung,bellaung/qinyane,cdsevenfive/gabraceni,tangkan/bevans,ekono/hip108729,hip113100/hip111755,hip105439/kavall,hip111755/hip109468,kavall/lahau,hip116045/jangdi,hip116045/iptet,hip116045/matichuqui,hip114040/rutujil,hip114040/thetaonemic,mahiko/jushakhe,
marrallang/shapsug,potres/maidub,tehuenef/kwelegus,tehuenef/lumastya,niflhel/miquit,niflhel/agartha,niflhel/futhark,shapsug/atlantis,shapsug/agartha,maidub/atlantis,maidub/rosmerta,ipilyaqa/betaonetuc,cdsixseven/fotla,kamocan/amuza,kamocan/ltt8856,munshin/cdsixseven,amuza/tsohoda,amuza/aakushu,
kouhua/okuagsa,kouhua/napia,kouhua/hip11909,yaque/ltt1289,thetaoct/ltt1289,thetaoct/pangil,iktock/ceronir,tumuzgo/koyans,hernovacle/koyans,hip6703/koyans,hip5700/cheng,mugong/cheng,lam1/lichi,lam2/grebegus,dounth/grebegus,
anhurs/maiki,korub/maiki,hip117014/maiki,purung/maiki,doolona/caeriango,firefade/caeriango,hip1914/ewanu,kukian/daibo,wababa/daibo,osane/daibo,nariyot/daibo,namniez/kauruku,kauruku/conii,kauruku/isti,kauruku/kisa,
okuagsa/hexingo,okuagsa/chona,ltt1289/tutu,pangil/untun,ceronir/anayicates,falendal/pleutarama,falendal/guuguyni,cheng/corin,kapoongzi/corin,kapoongzi/acheh,diyomi/halbara,diyomi/miansis,grebegus/hip10834,
chona/osissi,chona/apisulfr,chona/hip107010,zhao/cari,zhao/ambil,zhao/apurui,l17063/hollos,shanteneri/igores,anayicates/marki,pleutarama/maityan,sokariang/sigmahyd,aurawala/hip77470,duryampas/hip77470,duryampas/hotototo,halbara/pardis,halbara/hip77470,miansis/pardis,okundu/duro,xiphoen/yenhsini,xiphoen/nunus,xiphoen/dagao,
cari/hip108158,apurui/hip108158,indrachit/menguru,ambil/kutnigin,orang/calea,hip21455/kaukhe,hotototo/jaaka,hip23824/hernk,hip23824/epoma,hip23824/maljan,hip23824/usdia,hip77470/usdia,hip77470/jaaka,duro/caneph,yenhsini/ankayo,nunus/rhophoen,dagao/rhophoen,
kutnigin/yanmusu,jaaka/wababaye,usdia/hip46046,weichang/miroman,weichang/mukoji,miroman/reieni,miroman/hr4720,mukoji/hr4720,reieni/antliae,chontaiko/xhosattu,chontaiko/novas,hr4720/toxandji,hr4720/novas,hr4720/orgen,hr4720/shakal,
arth/mombaluma,lhs3295/zetatuc,mombaluma/daiku,zetatra/zetatuc,betatra/zetatuc,betatra/edenapel,mari/edenapel,baker/edenapel,hip100449/chacahua,hip100449/pichiwang}
  \draw[d] (\a) -- (\b);
\draw[d,{Latex[length=1.1mm,width=0.8mm]}-{Latex[length=1.1mm,width=0.8mm]}] (hip108158) -- (kutnigin);
\draw[e] (arth) to[bend left=12] (hillpahsi);
\draw[e] (arth) to[bend left=12] (mari);
\draw[d] (arth) to[bend left=12] (baker);
\draw[d] (arth) to[bend left=10] (hip100449);
\draw[e] (arth) to[bend left=10] (hip101549);
\end{pgfonlayer}
\end{tikzpicture}
\end{document}
